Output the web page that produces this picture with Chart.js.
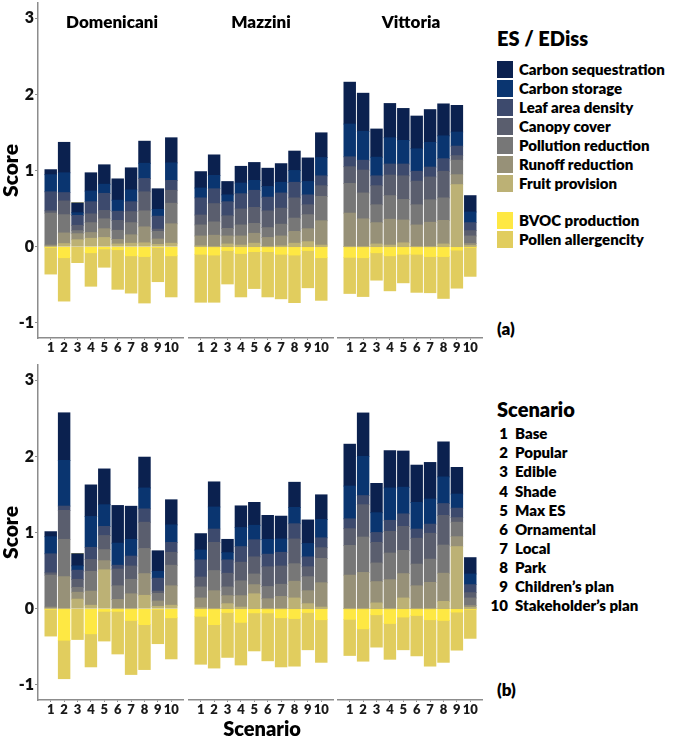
<!DOCTYPE html>
<html><head><meta charset="utf-8">
<script src="https://cdn.jsdelivr.net/npm/chart.js@4.4.1/dist/chart.umd.min.js"></script>
<style>
html,body{margin:0;padding:0;background:#fff;}
body{width:685px;height:741px;position:relative;overflow:hidden;font-family:Lato,"Open Sans",sans-serif;font-weight:800;color:#000;}
canvas{position:absolute;}
.t{position:absolute;white-space:nowrap;line-height:1;}
.sw{position:absolute;width:16px;height:17px;}
</style></head><body>
<script>
// ---------- categories / labels ----------
const scenarios = [1,2,3,4,5,6,7,8,9,10];
const sites = ['Domenicani','Mazzini','Vittoria'];
const esNames = ['Carbon sequestration','Carbon storage','Leaf area density','Canopy cover','Pollution reduction','Runoff reduction','Fruit provision'];
const edissNames = ['BVOC production','Pollen allergencity'];
const scenarioNames = ['Base','Popular','Edible','Shade','Max ES','Ornamental','Local','Park','Children\u2019s plan','Stakeholder\u2019s plan'];
const yTicks = [-1,0,1,2,3];

// ---------- panel (a) ----------
const aDomSeq    = [0.066,0.40,0.13,0.24,0.255,0.28,0.29,0.29,0.27,0.33];
const aDomStor   = [0.225,0.26,0.035,0.14,0.12,0.145,0.155,0.20,0.09,0.23];
const aDomLeaf   = [0.25,0.11,0.13,0.16,0.225,0.12,0.13,0.175,0.17,0.13];
const aDomCanopy = [0.03,0.18,0.07,0.115,0.11,0.13,0.145,0.25,0.03,0.17];
const aDomPoll   = [0.42,0.24,0.04,0.13,0.13,0.12,0.16,0.21,0.10,0.27];
const aDomRunoff = [0.02,0.14,0.08,0.075,0.115,0.06,0.11,0.21,0.07,0.255];
const aDomFruit  = [0.0,0.04,0.09,0.11,0.12,0.035,0.045,0.05,0.03,0.045];
const aDomBvoc   = [-0.01,-0.145,0,-0.08,-0.03,-0.04,-0.12,-0.13,-0.01,-0.12];
const aDomPollen = [-0.35,-0.57,-0.21,-0.44,-0.24,-0.52,-0.49,-0.61,-0.45,-0.54];

const aMazSeq    = [0.215,0.27,0.175,0.22,0.235,0.24,0.245,0.255,0.31,0.325];
const aMazStor   = [0.13,0.175,0.09,0.14,0.13,0.14,0.14,0.155,0.175,0.24];
const aMazLeaf   = [0.225,0.195,0.185,0.20,0.225,0.18,0.20,0.205,0.13,0.13];
const aMazCanopy = [0.13,0.24,0.165,0.21,0.21,0.22,0.21,0.265,0.13,0.14];
const aMazPoll   = [0.145,0.175,0.10,0.145,0.13,0.13,0.155,0.175,0.185,0.32];
const aMazRunoff = [0.13,0.15,0.105,0.12,0.13,0.12,0.13,0.155,0.17,0.32];
const aMazFruit  = [0.01,0.0,0.035,0.02,0.045,0.0,0.01,0.045,0.065,0.02];
const aMazBvoc   = [-0.10,-0.11,-0.05,-0.09,-0.065,-0.065,-0.10,-0.11,-0.05,-0.145];
const aMazPollen = [-0.63,-0.62,-0.44,-0.57,-0.485,-0.595,-0.585,-0.625,-0.49,-0.56];

const aVitSeq    = [0.55,0.50,0.37,0.45,0.42,0.43,0.43,0.42,0.35,0.215];
const aVitStor   = [0.43,0.38,0.245,0.345,0.31,0.295,0.325,0.30,0.185,0.14];
const aVitLeaf   = [0.13,0.13,0.13,0.145,0.155,0.13,0.13,0.165,0.125,0.105];
const aVitCanopy = [0.22,0.30,0.25,0.27,0.31,0.31,0.30,0.35,0.06,0.07];
const aVitPoll   = [0.39,0.34,0.235,0.31,0.27,0.265,0.295,0.295,0.19,0.10];
const aVitRunoff = [0.44,0.365,0.28,0.34,0.30,0.285,0.32,0.31,0.13,0.025];
const aVitFruit  = [0,0,0.035,0.02,0.05,0,0,0.035,0.815,0.015];
const aVitBvoc   = [-0.14,-0.145,-0.08,-0.12,-0.10,-0.10,-0.13,-0.13,-0.045,-0.01];
const aVitPollen = [-0.475,-0.51,-0.36,-0.46,-0.375,-0.50,-0.475,-0.55,-0.50,-0.38];

// ---------- panel (b) ----------
const bDomSeq    = [0.066,0.625,0.16,0.415,0.47,0.495,0.435,0.405,0.27,0.33];
const bDomStor   = [0.225,0.60,0.057,0.405,0.285,0.29,0.22,0.275,0.09,0.23];
const bDomLeaf   = [0.25,0.057,0.12,0.16,0.12,0.05,0.13,0.175,0.17,0.13];
const bDomCanopy = [0.03,0.38,0.105,0.155,0.185,0.22,0.175,0.345,0.03,0.17];
const bDomPoll   = [0.42,0.49,0.065,0.26,0.145,0.18,0.19,0.33,0.10,0.27];
const bDomRunoff = [0.02,0.42,0.09,0.185,0.12,0.12,0.195,0.285,0.07,0.255];
const bDomFruit  = [0,0,0.125,0.045,0.51,0,0,0.175,0.03,0.045];
const bDomBvoc   = [-0.01,-0.415,0,-0.33,-0.035,-0.035,-0.155,-0.21,-0.01,-0.12];
const bDomPollen = [-0.35,-0.505,-0.405,-0.435,-0.39,-0.56,-0.71,-0.59,-0.45,-0.54];

const bMazSeq    = [0.215,0.33,0.175,0.285,0.30,0.315,0.30,0.33,0.31,0.325];
const bMazStor   = [0.13,0.29,0.095,0.25,0.19,0.195,0.175,0.215,0.175,0.24];
const bMazLeaf   = [0.225,0.175,0.175,0.205,0.225,0.165,0.18,0.20,0.13,0.13];
const bMazCanopy = [0.13,0.37,0.18,0.245,0.225,0.26,0.24,0.325,0.13,0.14];
const bMazPoll   = [0.145,0.265,0.115,0.195,0.14,0.16,0.16,0.23,0.185,0.32];
const bMazRunoff = [0.13,0.235,0.105,0.15,0.12,0.13,0.16,0.22,0.17,0.32];
const bMazFruit  = [0.01,0,0.065,0.02,0.195,0,0,0.14,0.065,0.02];
const bMazBvoc   = [-0.10,-0.21,-0.05,-0.18,-0.055,-0.055,-0.12,-0.13,-0.05,-0.145];
const bMazPollen = [-0.63,-0.57,-0.59,-0.56,-0.50,-0.63,-0.645,-0.625,-0.49,-0.56];

const bVitSeq    = [0.55,0.57,0.385,0.49,0.475,0.49,0.48,0.46,0.35,0.215];
const bVitStor   = [0.43,0.515,0.26,0.425,0.35,0.35,0.33,0.35,0.185,0.14];
const bVitLeaf   = [0.13,0.12,0.13,0.145,0.165,0.12,0.12,0.155,0.125,0.105];
const bVitCanopy = [0.22,0.425,0.27,0.285,0.315,0.34,0.34,0.39,0.06,0.07];
const bVitPoll   = [0.39,0.465,0.245,0.35,0.305,0.285,0.305,0.37,0.19,0.10];
const bVitRunoff = [0.44,0.475,0.28,0.38,0.32,0.30,0.345,0.37,0.13,0.025];
const bVitFruit  = [0,0,0.075,0,0.14,0,0,0.095,0.815,0.015];
const bVitBvoc   = [-0.14,-0.265,-0.08,-0.195,-0.11,-0.09,-0.145,-0.155,-0.045,-0.01];
const bVitPollen = [-0.475,-0.425,-0.425,-0.47,-0.43,-0.53,-0.61,-0.55,-0.50,-0.38];

// ---------- styles ----------
const esColors = ['#0b214f','#0a3570','#3d4a6d','#5a5e6e','#777777','#979178','#bcb175'];
const edissColors = ['#fee843','#e1cd5e'];
const FONT = 'Lato, "Open Sans", sans-serif';
const AXIS = '#8c8c8c';

const panels = [
  {top: 0, facets: [
    [aDomSeq,aDomStor,aDomLeaf,aDomCanopy,aDomPoll,aDomRunoff,aDomFruit,aDomBvoc,aDomPollen],
    [aMazSeq,aMazStor,aMazLeaf,aMazCanopy,aMazPoll,aMazRunoff,aMazFruit,aMazBvoc,aMazPollen],
    [aVitSeq,aVitStor,aVitLeaf,aVitCanopy,aVitPoll,aVitRunoff,aVitFruit,aVitBvoc,aVitPollen]]},
  {top: 362, facets: [
    [bDomSeq,bDomStor,bDomLeaf,bDomCanopy,bDomPoll,bDomRunoff,bDomFruit,bDomBvoc,bDomPollen],
    [bMazSeq,bMazStor,bMazLeaf,bMazCanopy,bMazPoll,bMazRunoff,bMazFruit,bMazBvoc,bMazPollen],
    [bVitSeq,bVitStor,bVitLeaf,bVitCanopy,bVitPoll,bVitRunoff,bVitFruit,bVitBvoc,bVitPollen]]}
];
const facetBoxes = [{left: 0, width: 184, yAxis: true}, {left: 188, width: 146, yAxis: false}, {left: 337, width: 146, yAxis: false}];

function buildDatasets(vals) {
  const pts = arr => arr.map((v, i) => ({x: scenarios[i], y: v}));
  const ds = [];
  // positive stack: bottom (fruit) to top (carbon sequestration)
  for (let k = 6; k >= 0; k--) ds.push({label: esNames[k], data: pts(vals[k]), backgroundColor: esColors[k]});
  // negative stack: BVOC closest to zero, then pollen
  ds.push({label: edissNames[0], data: pts(vals[7]), backgroundColor: edissColors[0]});
  ds.push({label: edissNames[1], data: pts(vals[8]), backgroundColor: edissColors[1]});
  ds.forEach(d => { d.borderWidth = 0; d.inflateAmount = 0.4; d.barPercentage = 0.87; d.categoryPercentage = 1; });
  return ds;
}

function makeChart(panelTop, box, vals) {
  const c = document.createElement('canvas');
  const H = 363;
  c.width = box.width; c.height = H;
  c.style.left = box.left + 'px'; c.style.top = panelTop + 'px';
  c.style.width = box.width + 'px'; c.style.height = H + 'px';
  document.body.appendChild(c);
  new Chart(c, {
    type: 'bar',
    data: {datasets: buildDatasets(vals)},
    options: {
      responsive: false, animation: false, devicePixelRatio: 1,
      layout: {padding: {top: 3, left: 0, right: 0, bottom: 0}},
      plugins: {legend: {display: false}, tooltip: {enabled: false}},
      scales: {
        x: {
          type: 'linear', min: 0.05, max: 10.95, offset: false, stacked: true,
          grid: {display: true, drawOnChartArea: false, drawTicks: true, tickLength: 2, color: AXIS, offset: false},
          border: {display: true, color: AXIS, width: 1.5},
          ticks: {font: {family: FONT, weight: 800, size: 13, lineHeight: 1}, color: '#1a1a1a', padding: 1, autoSkip: false, maxRotation: 0, callback: v => String(v)},
          afterBuildTicks: s => { s.ticks = scenarios.map(v => ({value: v})); },
          afterFit: s => { s.height = 25; s.paddingLeft = 0; s.paddingRight = 0; }
        },
        y: {
          min: -1.2, max: 3.2, stacked: true, display: box.yAxis,
          grid: {display: true, drawOnChartArea: false, drawTicks: true, tickLength: 3, color: AXIS},
          border: {display: true, color: AXIS, width: 1.5},
          ticks: {stepSize: 1, includeBounds: false, font: {family: FONT, weight: 800, size: 16, lineHeight: 1}, color: '#111', padding: 1},
          afterBuildTicks: s => { s.ticks = yTicks.map(v => ({value: v})); },
          title: {display: true, text: 'Score', font: {family: FONT, weight: 800, size: 21, lineHeight: 1}, color: '#000', padding: {top: 1, bottom: 0}},
          afterFit: s => { s.width = box.yAxis ? 38 : 0; s.paddingTop = 0; s.paddingBottom = 0; }
        }
      }
    }
  });
}

panels.forEach(p => p.facets.forEach((vals, i) => makeChart(p.top, facetBoxes[i], vals)));

// ---------- text ----------
function text(str, x, y, size, align) {
  const d = document.createElement('div');
  d.className = 't';
  d.textContent = str;
  d.style.fontSize = size + 'px';
  d.style.top = (y - size / 2) + 'px';
  if (align === 'center') { d.style.left = x + 'px'; d.style.transform = 'translateX(-50%)'; }
  else if (align === 'right') { d.style.right = (685 - x) + 'px'; }
  else d.style.left = x + 'px';
  document.body.appendChild(d);
  return d;
}
const facetCenters = [112, 261, 411];
sites.forEach((s, i) => text(s, facetCenters[i], 21, 17, 'center'));

// ES legend
text('ES / EDiss', 497, 38, 20, 'left');
const esRows = [69, 88, 107, 126, 145, 164, 183];
esNames.forEach((n, k) => {
  const sw = document.createElement('div'); sw.className = 'sw';
  sw.style.left = '497px'; sw.style.top = (esRows[k] - 8.5) + 'px'; sw.style.background = esColors[k];
  document.body.appendChild(sw);
  text(n, 519, esRows[k], 15, 'left');
});
const edRows = [220, 239];
edissNames.forEach((n, k) => {
  const sw = document.createElement('div'); sw.className = 'sw';
  sw.style.left = '497px'; sw.style.top = (edRows[k] - 8.5) + 'px'; sw.style.background = edissColors[k];
  document.body.appendChild(sw);
  text(n, 519, edRows[k], 15, 'left');
});

// Scenario legend
text('Scenario', 497, 409, 20, 'left');
const scRows = [433, 452, 471, 491, 510, 529, 548, 567, 586, 605];
scenarioNames.forEach((n, k) => {
  text(String(scenarios[k]), 508, scRows[k], 15, 'right');
  text(n, 515, scRows[k], 15, 'left');
});

text('(a)', 497, 328, 17, 'left');
text('(b)', 497, 689, 17, 'left');
text('Scenario', 262, 728, 20, 'center');
</script>
</body></html>
